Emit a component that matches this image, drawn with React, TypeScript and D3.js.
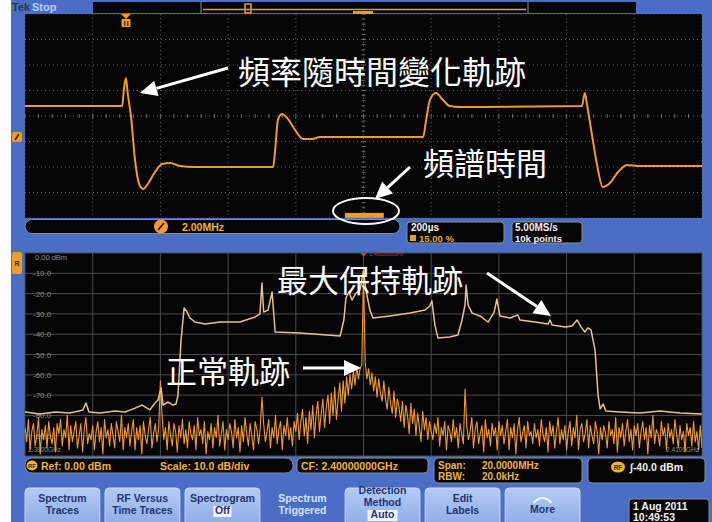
import * as d3 from "d3";

// frequency-vs-time trace (upper window), 200 us/div, 2 MHz/div about 2.4 GHz
const fmTimeUs = [0, 287, 292, 298, 304, 313, 325, 337, 349, 363, 384, 405, 428, 458, 502, 733, 739, 747, 759, 777, 798, 821, 848, 871, 1176, 1185, 1196, 1214, 1235, 1255, 1285, 1645, 1654, 1660, 1675, 1690, 1707, 1728, 1752, 1779, 1817, 2000];
const fmOffsetMHz = [0.78, 0.78, 2.04, 2.98, 1.65, 0, -3.45, -5.33, -5.73, -5.33, -4.39, -3.76, -3.69, -3.92, -4.0, -4.0, -2.67, -0.31, 0.16, -0.24, -1.1, -1.8, -1.8, -1.65, -1.65, -0.31, 1.25, 1.8, 1.25, 0.78, 0.71, 0.78, 1.8, 0.94, -1.49, -3.84, -5.57, -5.25, -4.39, -3.84, -3.92, -3.92];
const spectrumTimeUs = [945, 1060];

// spectrum window: offset from CF 2.4 GHz, in MHz
const spanMHz = [-10, 10];
const maxHoldMHz = [-10, -9.56, -9.11, -8.67, -8.29, -8.2, -8.11, -7.78, -7.34, -7.04, -6.75, -6.54, -6.31, -6.16, -6.07, -5.98, -5.92, -5.78, -5.63, -5.54, -5.48, -5.39, -5.3, -5.21, -5.13, -4.98, -4.68, -4.23, -3.65, -3.2, -3.06, -3.0, -2.95, -2.82, -2.7, -2.61, -1.88, -0.69, -0.58, -0.52, -0.43, -0.34, -0.22, -0.1, 0, 0.07, 0.19, 0.28, 0.78, 1.37, 1.82, 1.96, 2.02, 2.11, 2.2, 2.55, 2.79, 2.91, 3.0, 3.03, 3.09, 3.21, 3.44, 3.68, 3.86, 3.94, 4.03, 4.33, 4.56, 4.62, 5.07, 5.45, 5.51, 5.57, 5.96, 6.16, 6.31, 6.43, 6.54, 6.63, 6.72, 6.84, 6.93, 6.99, 7.08, 7.16, 7.58, 8.17, 8.76, 9.35, 10];
const maxHoldDb = [-78.3, -79.3, -78.3, -78.8, -77.3, -73.9, -78.3, -78.8, -77.8, -78.3, -76.4, -74.9, -77.3, -73.9, -72.4, -66.5, -74.9, -73.4, -74.9, -74.4, -70.0, -42.9, -27.1, -29.1, -32.0, -34.0, -35.0, -34.0, -34.0, -31.5, -30.0, -14.8, -29.1, -28.1, -19.2, -38.9, -39.4, -40.9, -33.0, -22.2, -19.2, -23.2, -19.7, -18.2, -8.4, -18.2, -28.1, -32.0, -31.0, -29.6, -28.1, -26.1, -23.6, -35.5, -41.9, -41.4, -40.4, -33.0, -25.6, -15.8, -25.6, -29.6, -31.0, -34.0, -29.1, -22.7, -31.0, -32.0, -30.5, -33.0, -34.0, -35.0, -33.0, -35.5, -36.5, -36.0, -33.0, -36.5, -38.9, -36.9, -37.9, -47.8, -70.0, -76.8, -74.4, -77.8, -78.3, -78.8, -77.8, -78.8, -79.3];
// normal trace, one value every 0.05 MHz from -10 to +10 MHz (20 per row = 1 MHz)
const normalDb = [
  -86, -93, -82, -97, -88, -84, -95, -90, -81, -99, -87, -92, -85, -96, -83, -90, -94, -86, -98, -84,
  -89, -82, -95, -87, -91, -80, -97, -85, -93, -88, -83, -96, -90, -84, -98, -87, -81, -94, -89, -92,
  -85, -97, -88, -83, -93, -86, -99, -82, -91, -87, -95, -84, -90, -96, -83, -88, -93, -80, -97, -86,
  -91, -84, -95, -88, -82, -97, -86, -92, -85, -99, -83, -90, -94, -87, -81, -96, -89, -84, -93, -86,
  -63, -80, -92, -86, -97, -83, -90, -95, -84, -88, -98, -85, -91, -82, -94, -87, -96, -83, -89, -92,
  -85, -97, -81, -90, -87, -94, -83, -99, -88, -92, -84, -96, -86, -91, -80, -95, -89, -83, -97, -87,
  -92, -84, -88, -96, -82, -91, -86, -98, -85, -93, -81, -89, -95, -84, -90, -97, -83, -87, -94, -86,
  -71, -84, -93, -88, -82, -96, -86, -91, -80, -94, -87, -83, -97, -85, -90, -81, -92, -86, -95, -83,
  -88, -79, -92, -83, -77, -90, -81, -94, -78, -87, -75, -91, -80, -73, -88, -79, -72, -86, -76, -70,
  -84, -69, -80, -66, -82, -72, -64, -78, -63, -74, -61, -70, -60, -67, -58, -65, -56, -62, -57, -55,
  -9,
  -54, -62, -57, -65, -59, -68, -61, -71, -62, -69, -73, -63, -72, -77, -66, -74, -79, -68, -81, -72,
  -76, -83, -73, -86, -75, -80, -89, -74, -84, -77, -90, -79, -86, -93, -78, -87, -81, -92, -83, -88,
  -92, -84, -89, -81, -95, -86, -90, -83, -97, -85, -88, -93, -82, -91, -86, -96, -84, -89, -94, -67,
  -85, -92, -88, -81, -96, -87, -83, -94, -89, -85, -98, -82, -91, -87, -95, -84, -90, -86, -97, -83,
  -90, -85, -94, -88, -82, -97, -86, -91, -84, -99, -87, -81, -93, -89, -85, -96, -83, -90, -88, -94,
  -84, -91, -87, -95, -82, -89, -93, -86, -98, -83, -90, -85, -96, -88, -81, -94, -87, -92, -85, -97,
  -88, -83, -95, -86, -91, -80, -97, -87, -84, -93, -89, -82, -96, -85, -90, -94, -83, -88, -99, -86,
  -92, -85, -89, -96, -83, -90, -87, -94, -81, -98, -86, -91, -84, -95, -88, -82, -93, -87, -97, -85,
  -90, -84, -96, -88, -83, -92, -86, -99, -85, -91, -80, -94, -87, -89, -95, -83, -90, -86, -97, -84,
  -91, -87, -94, -82, -89, -96, -85, -92, -88, -98, -84, -90, -86, -95, -83, -93, -88, -97, -85, -96,
];
const dbTicks = [-10, -20, -30, -40, -50, -60, -70, -80, -90];

const buttonLines = [
  ["Spectrum", "Traces"],
  ["RF Versus", "Time Traces"],
  ["Spectrogram", "Off"],
  ["Spectrum", "Triggered"],
  ["Detection", "Method", "Auto"],
  ["Edit", "Labels"],
  ["More"],
];

const W = 712;
const H = 522;
const BLUE = "#4a6ec6";
const ORANGE = "#f29a2e";
const PALE = "#e6c28e";
const CJK = "'Noto Sans CJK TC', 'Noto Sans CJK SC', sans-serif";
const UI = "'Liberation Sans', Arial, sans-serif";

const top = { x0: 25, x1: 702, y0: 14, y1: 218 };
const bot = { x0: 25, x1: 702, y0: 253, y1: 456 };

function Arrow({ x1, y1, x2, y2 }: { x1: number; y1: number; x2: number; y2: number }) {
  const a = Math.atan2(y2 - y1, x2 - x1);
  const L = 17;
  const w = 8;
  const bx = x2 - L * Math.cos(a);
  const by = y2 - L * Math.sin(a);
  const px = -Math.sin(a) * w;
  const py = Math.cos(a) * w;
  return (
    <g>
      <line x1={x1} y1={y1} x2={bx} y2={by} stroke="#fff" strokeWidth={3} />
      <path d={`M${x2},${y2}L${bx + px},${by + py}L${bx - px},${by - py}Z`} fill="#fff" />
    </g>
  );
}

export default function App() {
  const xTime = d3.scaleLinear([0, 2000], [top.x0, top.x1]);
  const yFreq = d3.scaleLinear([-8, 8], [top.y1, top.y0]);
  const xSpec = d3.scaleLinear(spanMHz, [bot.x0, bot.x1]);
  const yDb = d3.scaleLinear([-100, 0], [bot.y1, bot.y0]);
  const normalMHz = d3.range(normalDb.length).map((i) => spanMHz[0] + i * 0.05);

  const fmLine = d3
    .line<number>()
    .x((_, i) => xTime(fmTimeUs[i]))
    .y((d) => yFreq(d))
    .curve(d3.curveMonotoneX);
  const maxLine = d3
    .line<number>()
    .x((_, i) => xSpec(maxHoldMHz[i]))
    .y((d) => yDb(d));
  const normLine = d3
    .line<number>()
    .x((_, i) => xSpec(normalMHz[i]))
    .y((d) => yDb(d));

  const btn = d3
    .scaleBand<number>()
    .domain(d3.range(buttonLines.length))
    .range([25, 580])
    .paddingInner(0.065);

  const cx = xTime(1000);
  const cy = yFreq(0);

  return (
    <div style={{ position: "absolute", left: 0, top: 0 }}>
      <svg width={W} height={H} style={{ display: "block" }}>
        <defs>
          <linearGradient id="btnG" x1="0" y1="0" x2="0" y2="1">
            <stop offset="0" stopColor="#b4cbf4" />
            <stop offset="1" stopColor="#86a6e4" />
          </linearGradient>
          <clipPath id="clipTop">
            <rect x={top.x0} y={top.y0} width={top.x1 - top.x0} height={top.y1 - top.y0} />
          </clipPath>
          <clipPath id="clipBot">
            <rect x={bot.x0} y={bot.y0} width={bot.x1 - bot.x0} height={bot.y1 - bot.y0} />
          </clipPath>
        </defs>
        <rect width={W} height={H} fill="#fff" />
        <rect x={11} y={0} width={W - 11} height={H} fill={BLUE} />

        {/* top status bar */}
        <text x={12} y={11} fontFamily={UI} fontSize={11} fontWeight="bold" fill="#2d3550">Tek</text>
        <text x={32} y={11} fontFamily={UI} fontSize={11} fontWeight="bold" fill="#bcd0f5">Stop</text>
        <rect x={93} y={2} width={543} height={11} fill="#050505" />
        <line x1={201} x2={201} y1={2} y2={13} stroke="#8a8a8a" />
        <line x1={528} x2={528} y1={2} y2={13} stroke="#8a8a8a" />
        <line x1={203} x2={526} y1={9.5} y2={9.5} stroke={ORANGE} strokeWidth={1.5} />
        <rect x={245} y={4} width={6} height={9} fill="none" stroke={ORANGE} strokeWidth={1.5} />

        {/* upper window: frequency vs time */}
        <rect x={top.x0} y={top.y0} width={top.x1 - top.x0} height={top.y1 - top.y0} fill="#050505" />
        {d3.range(0, 2001, 200).map((t) => (
          <line key={"vt" + t} x1={xTime(t)} x2={xTime(t)} y1={top.y0} y2={top.y1} stroke="#5c5c5c" strokeDasharray="1 3" />
        ))}
        {d3.range(-8, 8.01, 2).map((f) => (
          <line key={"hf" + f} x1={top.x0} x2={top.x1} y1={yFreq(f)} y2={yFreq(f)} stroke="#5c5c5c" strokeDasharray="1 3" />
        ))}
        {d3.range(0, 2001, 40).map((t) => (
          <line key={"mt" + t} x1={xTime(t)} x2={xTime(t)} y1={cy - 2} y2={cy + 2} stroke="#6a6a6a" />
        ))}
        {d3.range(-8, 8.01, 0.4).map((f) => (
          <line key={"mf" + f} x1={cx - 2} x2={cx + 2} y1={yFreq(f)} y2={yFreq(f)} stroke="#6a6a6a" />
        ))}
        <g clipPath="url(#clipTop)">
          <path d={fmLine(fmOffsetMHz) ?? ""} fill="none" stroke={ORANGE} strokeWidth={2} strokeLinejoin="round" />
        </g>
        {/* trigger + level markers */}
        <path d="M121,14 L131,14 L126,19 Z" fill={ORANGE} />
        <rect x={121.5} y={19} width={9} height={8} rx={1} fill={ORANGE} />
        <rect x={124} y={21} width={1.5} height={5} fill="#5a3a00" />
        <rect x={127} y={21} width={1.5} height={5} fill="#5a3a00" />
        <rect x={12} y={132} width={10} height={10} rx={2} fill={ORANGE} />
        <line x1={15} y1={140} x2={19} y2={134} stroke="#3a2600" strokeWidth={1.5} />
        <rect x={353} y={11} width={20} height={3} fill={ORANGE} />

        {/* spectrum time indicator */}
        <rect
          x={xTime(spectrumTimeUs[0])}
          y={yFreq(-7.6)}
          width={xTime(spectrumTimeUs[1]) - xTime(spectrumTimeUs[0])}
          height={5}
          fill={ORANGE}
        />

        {/* readouts of upper window */}
        <rect x={25} y={219.5} width={375} height={14} rx={7} fill="#050505" stroke="#8c8c8c" />
        <circle cx={161} cy={226.5} r={7} fill={ORANGE} />
        <line x1={158} y1={230} x2={164} y2={223} stroke="#2a1a00" strokeWidth={1.8} />
        <text x={182} y={230.5} fontFamily={UI} fontSize={10.5} fontWeight="bold" fill="#f0b23c">2.00MHz</text>
        <rect x={407} y={222} width={97} height={21} rx={3} fill="#050505" stroke="#8c8c8c" />
        <text x={411} y={231} fontFamily={UI} fontSize={10} fontWeight="bold" fill="#f2f2f2">200µs</text>
        <rect x={410} y={235} width={6} height={6} fill={ORANGE} />
        <text x={419} y={241.5} fontFamily={UI} fontSize={9.5} fontWeight="bold" fill="#f0a83a">15.00 %</text>
        <rect x={512} y={222} width={70} height={21} rx={3} fill="#050505" stroke="#8c8c8c" />
        <text x={515} y={231} fontFamily={UI} fontSize={10} fontWeight="bold" fill="#f2f2f2">5.00MS/s</text>
        <text x={515} y={241.5} fontFamily={UI} fontSize={9.5} fontWeight="bold" fill="#f2f2f2">10k points</text>

        {/* lower window: spectrum */}
        <rect x={bot.x0} y={bot.y0} width={bot.x1 - bot.x0} height={bot.y1 - bot.y0} fill="#050505" />
        {d3.range(-10, 10.01, 2).map((f) => (
          <line key={"vs" + f} x1={xSpec(f)} x2={xSpec(f)} y1={bot.y0} y2={bot.y1} stroke="#4a4a4a" />
        ))}
        {d3.range(-100, 0.01, 10).map((d) => (
          <line key={"hs" + d} x1={bot.x0} x2={bot.x1} y1={yDb(d)} y2={yDb(d)} stroke="#4a4a4a" />
        ))}
        <text x={35} y={yDb(0) + 7} fontFamily={UI} fontSize={7.5} fill="#8c8c8c">0.00 dBm</text>
        {dbTicks.map((d) => (
          <text key={"tl" + d} x={33} y={yDb(d) + 3} fontFamily={UI} fontSize={8} fill="#8c8c8c">
            {d.toFixed(1)}
          </text>
        ))}
        <text x={28} y={452} fontFamily={UI} fontSize={6.5} fill="#8c8c8c">2.3900GHz</text>
        <text x={699} y={452} textAnchor="end" fontFamily={UI} fontSize={6.5} fill="#8c8c8c">2.4100GHz</text>
        <g clipPath="url(#clipBot)">
          <path d={normLine(normalDb) ?? ""} fill="none" stroke={ORANGE} strokeWidth={1.1} strokeLinejoin="round" />
          <path d={maxLine(maxHoldDb) ?? ""} fill="none" stroke={PALE} strokeWidth={1.5} strokeLinejoin="round" />
        </g>
        <path d={`M${xSpec(0) - 3},${bot.y0} L${xSpec(0) + 3},${bot.y0} L${xSpec(0)},${bot.y0 + 4} Z`} fill="#e03a3a" />
        <text x={xSpec(0) + 6} y={bot.y0 + 2.5} fontFamily={UI} fontSize={5} fill="#c83a3a">2.4000000GHz</text>
        <rect x={12} y={252} width={10} height={22} rx={2} fill={ORANGE} />
        <text x={17} y={266} textAnchor="middle" fontFamily={UI} fontSize={7} fontWeight="bold" fill="#3a2600">R</text>

        {/* readouts of lower window */}
        <rect x={25} y={458} width={268} height={15} rx={7} fill="#050505" stroke="#8c8c8c" />
        <ellipse cx={32} cy={465.5} rx={5.5} ry={5} fill="#f2b33a" />
        <text x={32} y={468} textAnchor="middle" fontFamily={UI} fontSize={6} fontWeight="bold" fill="#3a2600">RF</text>
        <text x={41} y={469.5} fontFamily={UI} fontSize={10.5} fontWeight="bold" fill="#f0b23c">Ref: 0.00 dBm</text>
        <text x={160} y={469.5} fontFamily={UI} fontSize={10.5} fontWeight="bold" fill="#f0b23c">Scale: 10.0 dB/div</text>
        <rect x={297} y={458} width={131} height={15} rx={4} fill="#050505" stroke="#8c8c8c" />
        <text x={301} y={469.5} fontFamily={UI} fontSize={10.5} fontWeight="bold" fill="#f0b23c">CF: 2.40000000GHz</text>
        <rect x={434} y={458} width={148} height={25} rx={4} fill="#050505" stroke="#8c8c8c" />
        <text x={438} y={469} fontFamily={UI} fontSize={10} fontWeight="bold" fill="#f0b23c">Span:</text>
        <text x={482} y={469} fontFamily={UI} fontSize={10} fontWeight="bold" fill="#f0b23c">20.0000MHz</text>
        <text x={438} y={480} fontFamily={UI} fontSize={10} fontWeight="bold" fill="#f0b23c">RBW:</text>
        <text x={482} y={480} fontFamily={UI} fontSize={10} fontWeight="bold" fill="#f0b23c">20.0kHz</text>
        <rect x={588} y={458} width={117} height={25} rx={4} fill="#050505" stroke="#8c8c8c" />
        <ellipse cx={618} cy={467} rx={7} ry={5.5} fill="#f2b33a" />
        <text x={618} y={469.5} textAnchor="middle" fontFamily={UI} fontSize={6.5} fontWeight="bold" fill="#3a2600">RF</text>
        <text x={630} y={471} fontFamily={UI} fontSize={10.5} fontWeight="bold" fill="#f2f2f2">∫-40.0 dBm</text>

        {/* soft buttons */}
        {buttonLines.map((lines, i) => {
          const x = btn(i) ?? 0;
          const w = btn.bandwidth();
          const mid = x + w / 2;
          const plain = i !== 3;
          const ys =
            lines.length === 3 ? [494, 506, 518] : lines.length === 2 ? [502, 514] : [513];
          return (
            <g key={"b" + i}>
              {plain && <rect x={x} y={488} width={w} height={44} rx={4} fill="url(#btnG)" stroke="#c9d8f7" />}
              {(i === 2 || i === 4) && (
                <rect
                  x={mid - (i === 2 ? 9 : 15)}
                  y={ys[ys.length - 1] - 8}
                  width={i === 2 ? 18 : 30}
                  height={11}
                  fill="#f4f6fb"
                />
              )}
              {i === 6 && (
                <path d={`M${mid - 9},${503} Q${mid},${493} ${mid + 9},${503}`} fill="none" stroke="#f4f6fb" strokeWidth={2} />
              )}
              {lines.map((t, j) => (
                <text
                  key={j}
                  x={mid}
                  y={ys[j]}
                  textAnchor="middle"
                  fontFamily={UI}
                  fontSize={10.5}
                  fontWeight="bold"
                  fill={plain ? "#1f3372" : "#d6e3ff"}
                >
                  {t}
                </text>
              ))}
            </g>
          );
        })}
        <rect x={629} y={499} width={80} height={30} rx={3} fill="#050505" stroke="#8c8c8c" />
        <text x={633} y={510} fontFamily={UI} fontSize={10.5} fontWeight="bold" fill="#f2f2f2">1 Aug 2011</text>
        <text x={633} y={521} fontFamily={UI} fontSize={10.5} fontWeight="bold" fill="#f2f2f2">10:49:53</text>

        {/* annotations */}
        <ellipse cx={366} cy={211} rx={33} ry={13} fill="none" stroke="#fff" strokeWidth={2} />
        <text x={238} y={70} dominantBaseline="central" fontFamily={CJK} fontSize={32} fill="#fff">頻率隨時間變化軌跡</text>
        <Arrow x1={228} y1={68} x2={140} y2={93} />
        <text x={423} y={161} dominantBaseline="central" fontFamily={CJK} fontSize={31} fill="#fff">頻譜時間</text>
        <Arrow x1={410} y1={167} x2={375} y2={199} />
        <text x={277} y={278} dominantBaseline="central" fontFamily={CJK} fontSize={31} fill="#fff">最大保持軌跡</text>
        <Arrow x1={487} y1={273} x2={551} y2={316} />
        <text x={166} y={369} dominantBaseline="central" fontFamily={CJK} fontSize={31} fill="#fff">正常軌跡</text>
        <Arrow x1={303} y1={368} x2={361} y2={368} />
      </svg>
    </div>
  );
}
